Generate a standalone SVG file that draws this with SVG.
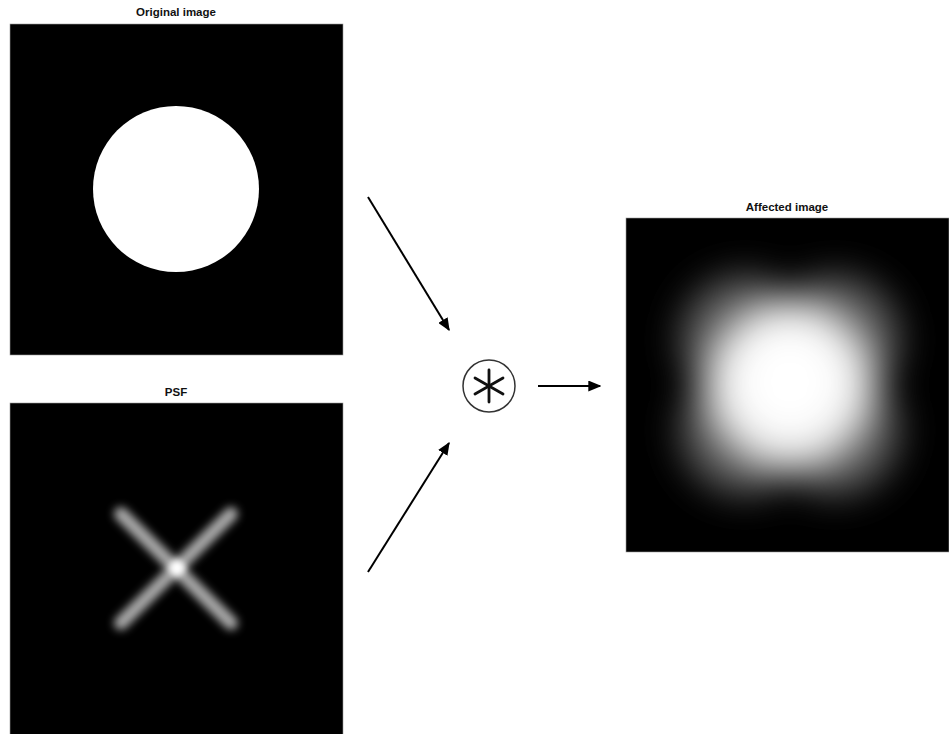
<svg xmlns="http://www.w3.org/2000/svg" width="949" height="734" viewBox="0 0 949 734">
<defs>
<style>
.title{font-family:"Liberation Sans",Arial,sans-serif;font-weight:bold;font-size:11.5px;fill:#111;text-anchor:middle}
.frame{fill:#000;stroke:#999;stroke-width:0.6}
.conn{stroke:#000;stroke-width:2;fill:none}
</style>
<marker id="ah" viewBox="0 0 10 10" refX="9" refY="5" markerWidth="13" markerHeight="11" markerUnits="userSpaceOnUse" orient="auto" preserveAspectRatio="none">
<path d="M0,0 L10,5 L0,10 Z" fill="#000"/>
</marker>
<filter id="b1" x="-50%" y="-50%" width="200%" height="200%"><feGaussianBlur stdDeviation="4"/></filter>
<filter id="b2" x="-50%" y="-50%" width="200%" height="200%"><feGaussianBlur stdDeviation="3"/></filter>
<filter id="b3" x="-50%" y="-50%" width="200%" height="200%"><feGaussianBlur stdDeviation="18"/></filter>
<clipPath id="c3"><rect x="626" y="218" width="323" height="334"/></clipPath>
</defs>
<rect width="949" height="734" fill="#fff"/>

<g id="original">
<text class="title" x="176" y="16">Original image</text>
<rect class="frame" x="10" y="24" width="333" height="331"/>
<circle cx="176" cy="189" r="83" fill="#fff"/>
</g>

<g id="psf">
<text class="title" x="176" y="396">PSF</text>
<rect class="frame" x="10" y="403" width="333" height="335"/>
<g filter="url(#b1)" stroke="#a8a8a8" stroke-width="14" stroke-linecap="round">
<line x1="121" y1="514" x2="231" y2="623"/>
<line x1="231" y1="514" x2="121" y2="623"/>
</g>
<circle cx="177" cy="568" r="8" fill="#fff" filter="url(#b2)"/>
</g>

<g id="conv">
<circle cx="489" cy="386" r="26" fill="#fff" stroke="#333" stroke-width="1.5"/>
<g stroke="#111" stroke-width="2.8" stroke-linecap="round">
<line x1="489" y1="370" x2="489" y2="402"/>
<line x1="475" y1="378" x2="503" y2="394"/>
<line x1="475" y1="394" x2="503" y2="378"/>
</g>
</g>

<g id="affected">
<text class="title" x="787" y="211">Affected image</text>
<rect class="frame" x="626" y="218" width="323" height="334"/>
<g clip-path="url(#c3)">
<g filter="url(#b3)">
<g stroke="#808080" stroke-width="130" stroke-linecap="round" opacity="0.7">
<line x1="745" y1="340" x2="835" y2="430"/>
<line x1="835" y1="340" x2="745" y2="430"/>
</g>
<circle cx="790" cy="385" r="82" fill="#e8e8e8"/>
<circle cx="790" cy="382" r="55" fill="#fff"/>
</g>
</g>
</g>

<g id="connectors">
<line class="conn" x1="368" y1="197" x2="449" y2="330" marker-end="url(#ah)"/>
<line class="conn" x1="368" y1="572" x2="449" y2="443" marker-end="url(#ah)"/>
<line class="conn" x1="538" y1="386" x2="600" y2="386" marker-end="url(#ah)"/>
</g>
</svg>
